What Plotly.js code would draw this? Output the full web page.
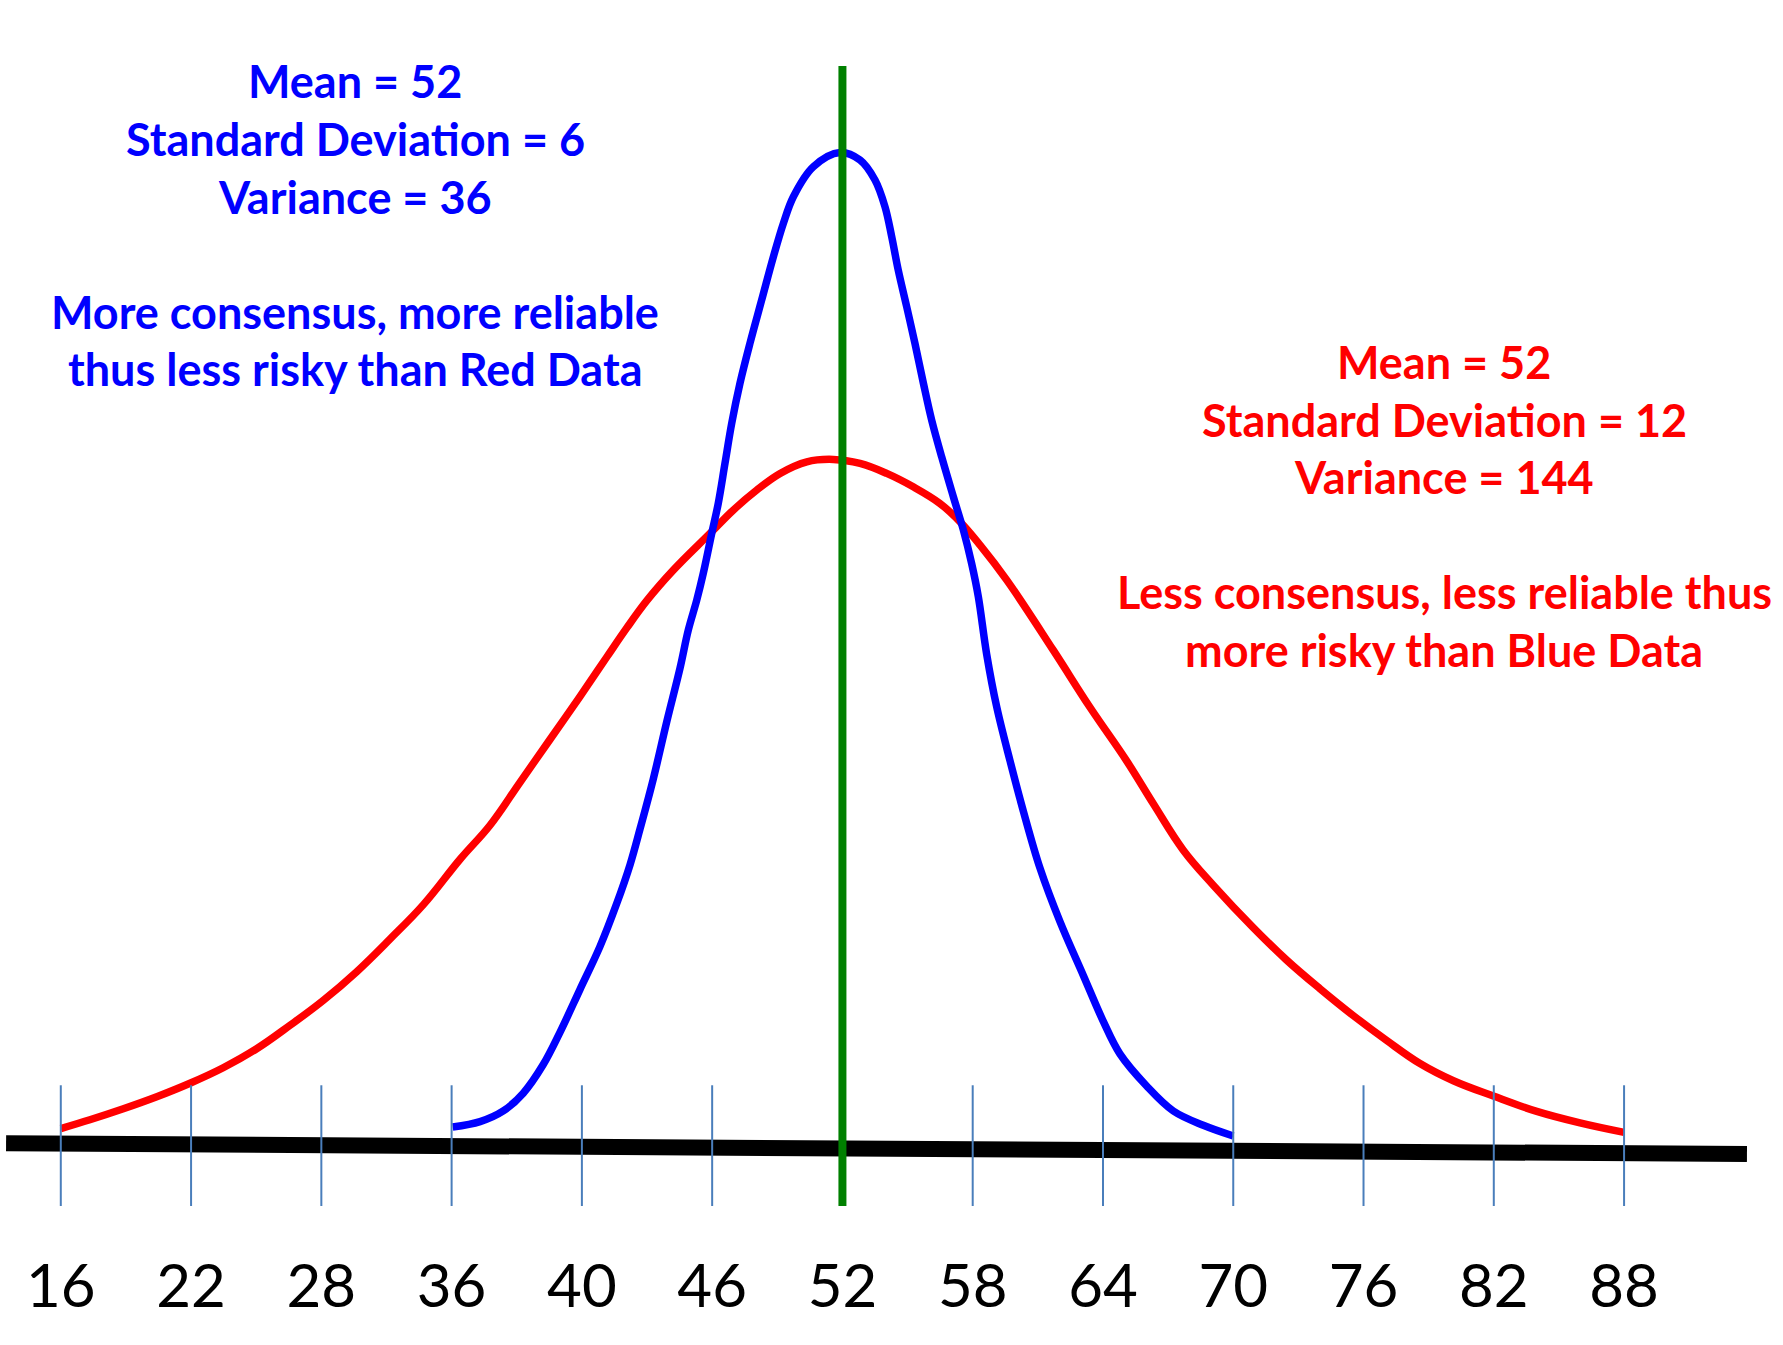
<!DOCTYPE html>
<html>
<head>
<meta charset="utf-8">
<script src="https://cdn.plot.ly/plotly-3.0.1.min.js"></script>
<style>
  html, body { margin: 0; padding: 0; background: #ffffff; }
  #chart { width: 1783px; height: 1345px; }
</style>
</head>
<body>
<div id="chart"></div>
<script>
// Axis ticks: evenly spaced positions with the printed labels
const tickVals = [16, 22, 28, 34, 40, 46, 52, 58, 64, 70, 76, 82, 88];
const tickLabels = ['16', '22', '28', '36', '40', '46', '52', '58', '64', '70', '76', '82', '88'];

// Blue data: mean 52, standard deviation 6 (hand-drawn bell curve)
const blueX = [34.05, 35.31, 36.38, 37.30, 38.22, 38.99, 39.91, 40.83, 41.60, 42.22,
               42.68, 43.29, 43.91, 44.52, 44.90, 45.29, 45.59, 45.98, 46.28, 46.59,
               46.90, 47.28, 47.74, 48.28, 48.82, 49.28, 49.74, 50.66, 51.89, 52.81,
               53.50, 53.96, 54.27, 54.57, 54.96, 55.34, 55.73, 56.11, 56.57, 57.11,
               57.57, 57.95, 58.26, 58.64, 59.11, 59.72, 60.33, 61.10, 62.02, 63.09,
               64.02, 64.78, 66.01, 67.24, 68.62, 70.00];
const blueY = [2.12, 2.66, 3.73, 5.51, 8.37, 11.59, 15.87, 20.16, 24.44, 28.37,
               31.94, 36.94, 42.66, 48.01, 51.80, 54.80, 57.47, 61.47, 64.47, 68.47,
               72.47, 76.47, 80.47, 84.80, 89.13, 92.47, 95.13, 98.13, 99.55, 98.80,
               96.80, 94.13, 91.13, 87.80, 84.13, 80.47, 76.47, 72.80, 69.13, 65.13,
               61.80, 58.47, 55.13, 49.44, 44.09, 38.73, 33.73, 28.01, 22.66, 17.30,
               12.66, 9.44, 6.23, 3.73, 2.30, 1.23];

// Red data: mean 52, standard deviation 12 (hand-drawn bell curve)
const redX = [16.00, 17.34, 18.88, 20.42, 21.95, 23.48, 25.02, 26.56, 28.09, 29.63,
              31.16, 32.70, 34.39, 35.77, 37.15, 38.53, 39.91, 41.14, 42.06, 42.99,
              44.21, 45.90, 46.97, 48.05, 49.13, 50.36, 51.58, 52.81, 54.04, 55.26,
              56.49, 57.42, 58.34, 59.57, 61.71, 63.40, 65.09, 66.32, 67.70,
              69.08, 70.92, 72.46, 74.00, 75.53, 77.07, 78.60, 80.14, 81.98, 83.98,
              85.97, 88.00];
const redY = [1.97, 2.85, 3.95, 5.15, 6.50, 8.05, 9.95, 12.30, 14.79, 17.66,
              20.91, 24.36, 28.90, 32.30, 36.59, 40.87, 45.16, 49.09, 52.00, 54.75,
              57.80, 61.47, 63.80, 65.80, 67.47, 68.63, 68.87, 68.47, 67.47, 66.13,
              64.47, 62.63, 60.30, 56.80, 49.80, 44.09, 38.73, 34.44, 29.80,
              26.30, 22.06, 18.81, 15.94, 13.26, 10.77, 8.47, 6.75, 5.22, 3.69,
              2.54, 1.59];

// Horizontal base line (slightly tilted), tick marks and the mean marker
const baseX = [13.48, 93.66];
const baseY = [0.50, -0.57];
const tickTop = 6.3;
const tickBottom = -5.77;
const meanValue = 52;
const meanTop = 108.2;

// Annotation text
const blueLines = ['Mean = 52', 'Standard Deviation = 6', 'Variance = 36',
                   'More consensus, more reliable', 'thus less risky than Red Data'];
const redLines = ['Mean = 52', 'Standard Deviation = 12', 'Variance = 144',
                  'Less consensus, less reliable thus', 'more risky than Blue Data'];

const FONT = 'Lato, "Open Sans", "Noto Sans", sans-serif';
const PLOT_H = 1205.7;

// vertical tick marks built from the tick positions
const tickX = [], tickY = [];
tickVals.forEach(function (v) {
  tickX.push(v, v, null);
  tickY.push(tickBottom, tickTop, null);
});

const traces = [
  { x: baseX, y: baseY, mode: 'lines', line: { color: '#000000', width: 16 }, hoverinfo: 'skip' },
  { x: redX, y: redY, mode: 'lines', line: { color: '#FF0000', width: 7.5, shape: 'spline', smoothing: 1.1 } },
  { x: blueX, y: blueY, mode: 'lines', line: { color: '#0000FF', width: 7.5, shape: 'spline', smoothing: 1.0 } },
  { x: tickX, y: tickY, mode: 'lines', line: { color: '#4A7EBB', width: 2 }, hoverinfo: 'skip', connectgaps: false },
  { x: [meanValue, meanValue], y: [meanTop, tickBottom], mode: 'lines', line: { color: '#008000', width: 8 }, hoverinfo: 'skip' }
];

// one annotation per text line, centred at (cx, cy) in pixels of the plot area
function textLines(lines, color, cx, centers) {
  return lines.map(function (t, i) {
    return {
      xref: 'paper', yref: 'paper',
      x: cx / 1783, y: 1 - centers[i] / PLOT_H,
      xanchor: 'center', yanchor: 'middle',
      text: t, showarrow: false,
      font: { family: FONT, size: 45, color: color, weight: 'bold' }
    };
  });
}

const layout = {
  width: 1783, height: 1345,
  margin: { l: 0, r: 0, t: 0, b: 1345 - PLOT_H, pad: 0 },
  paper_bgcolor: '#ffffff', plot_bgcolor: '#ffffff',
  showlegend: false,
  xaxis: {
    range: [13.2, 95.32], showgrid: false, zeroline: false, showline: false,
    tickmode: 'array', tickvals: tickVals, ticktext: tickLabels,
    ticks: '', ticklabelstandoff: 40,
    tickfont: { family: FONT, size: 60, color: '#000000' },
    fixedrange: true
  },
  yaxis: {
    range: [tickBottom, 114.8], visible: false, showgrid: false, zeroline: false, fixedrange: true
  },
  annotations: textLines(blueLines, '#0000FF', 355, [81, 139, 196.5, 311.5, 369])
    .concat(textLines(redLines, '#FF0000', 1444, [362, 419.5, 476.5, 591.5, 650]))
};

Plotly.newPlot('chart', traces, layout, { staticPlot: true, displayModeBar: false });
</script>
</body>
</html>
